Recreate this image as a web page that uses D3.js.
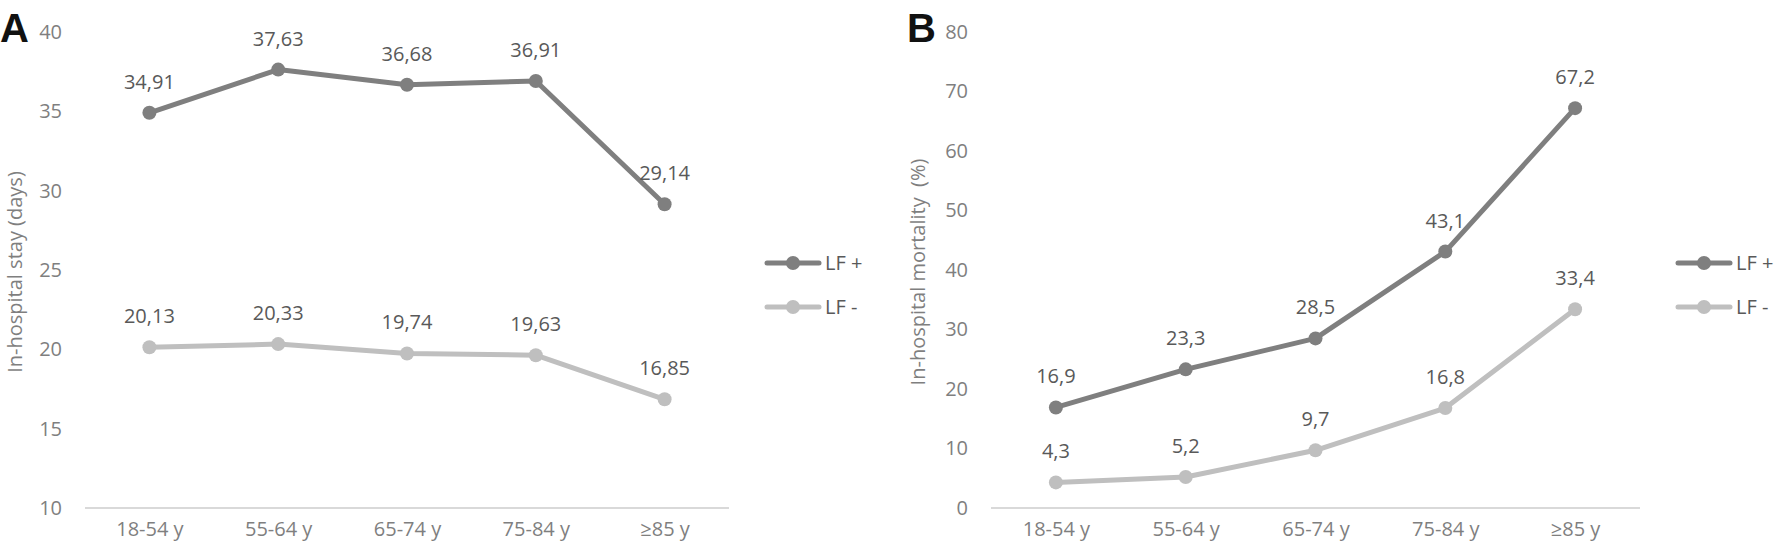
<html>
<head>
<script src="https://d3js.org/d3.v7.min.js"></script>
<style>
  body { margin: 0; background: #fff; }
  text { font-family: "Open Sans", sans-serif; }
</style>
</head>
<body>
<svg id="chart" width="1776" height="548"></svg>
<script>
// data
const ageGroups = ["18-54 y", "55-64 y", "65-74 y", "75-84 y", "≥85 y"];
const seriesNames = ["LF +", "LF -"];
const stayLFpos = [34.91, 37.63, 36.68, 36.91, 29.14];
const stayLFneg = [20.13, 20.33, 19.74, 19.63, 16.85];
const mortLFpos = [16.9, 23.3, 28.5, 43.1, 67.2];
const mortLFneg = [4.3, 5.2, 9.7, 16.8, 33.4];
const stayTicks = [10, 15, 20, 25, 30, 35, 40];
const mortTicks = [0, 10, 20, 30, 40, 50, 60, 70, 80];

const colors = ["#7f7f7f", "#bfbfbf"];
const svg = d3.select("#chart");
const fmt = v => String(v).replace(".", ",");

function panel(opt) {
  const x = d3.scalePoint().domain(ageGroups).range([opt.x0, opt.x1]).padding(0.5);
  const y = d3.scaleLinear().domain(opt.domain).range([508, 32]);
  const g = svg.append("g");

  // baseline
  g.append("line")
    .attr("x1", opt.x0).attr("x2", opt.x1)
    .attr("y1", y(opt.domain[0])).attr("y2", y(opt.domain[0]))
    .attr("stroke", "#d9d9d9").attr("stroke-width", 2);

  // y tick labels
  const yAxis = g.append("g").attr("transform", `translate(${opt.x0},0)`)
    .call(d3.axisLeft(y).tickValues(opt.ticks).tickSize(0).tickPadding(23));
  yAxis.select(".domain").remove();
  yAxis.selectAll("text").attr("fill", "#7f7f7f").style("font-size", "20px")
    .style("font-family", "Open Sans");

  // x tick labels
  const xAxis = g.append("g").attr("transform", `translate(0,${y(opt.domain[0])})`)
    .call(d3.axisBottom(x).tickSize(0).tickPadding(14));
  xAxis.select(".domain").remove();
  xAxis.selectAll("text").attr("fill", "#7f7f7f").style("font-size", "20px")
    .style("font-family", "Open Sans");

  // y title
  g.append("text")
    .attr("transform", `translate(${opt.titleX},272) rotate(-90)`)
    .attr("text-anchor", "middle")
    .attr("fill", "#7f7f7f").style("font-size", "20px")
    .style("white-space", "pre")
    .text(opt.title);

  // panel letter
  g.append("text").attr("x", opt.letterX).attr("y", 42)
    .style("font-family", "Liberation Sans").style("font-weight", "bold")
    .style("font-size", "40px").attr("fill", "#111").text(opt.letter);

  const line = d3.line().x((d, i) => x(ageGroups[i])).y(d => y(d));
  opt.series.forEach((vals, s) => {
    g.append("path").attr("d", line(vals))
      .attr("fill", "none").attr("stroke", colors[s])
      .attr("stroke-width", 5).attr("stroke-linejoin", "round");
    g.selectAll(null).data(vals).join("circle")
      .attr("cx", (d, i) => x(ageGroups[i])).attr("cy", d => y(d))
      .attr("r", 7).attr("fill", colors[s]);
    g.selectAll(null).data(vals).join("text")
      .attr("x", (d, i) => x(ageGroups[i])).attr("y", d => y(d) - 24)
      .attr("text-anchor", "middle").attr("fill", "#595959")
      .style("font-size", "20px").text(d => fmt(d));
  });

  // legend
  seriesNames.forEach((name, s) => {
    const ly = 263 + s * 44;
    g.append("line").attr("x1", opt.legX).attr("x2", opt.legX + 52)
      .attr("y1", ly).attr("y2", ly).attr("stroke", colors[s])
      .attr("stroke-width", 5).attr("stroke-linecap", "round");
    g.append("circle").attr("cx", opt.legX + 26).attr("cy", ly).attr("r", 7).attr("fill", colors[s]);
    g.append("text").attr("x", opt.legX + 58).attr("y", ly).attr("dy", "0.35em")
      .attr("fill", "#595959").style("font-size", "20px").text(name);
  });
}

panel({
  x0: 85, x1: 729, domain: [10, 40], ticks: stayTicks,
  series: [stayLFpos, stayLFneg], title: "In-hospital stay (days)",
  titleX: 22, letter: "A", letterX: 0, legX: 767
});
panel({
  x0: 991, x1: 1640, domain: [0, 80], ticks: mortTicks,
  series: [mortLFpos, mortLFneg], title: "In-hospital mortality  (%)",
  titleX: 925, letter: "B", letterX: 907, legX: 1678
});
</script>
</body>
</html>
